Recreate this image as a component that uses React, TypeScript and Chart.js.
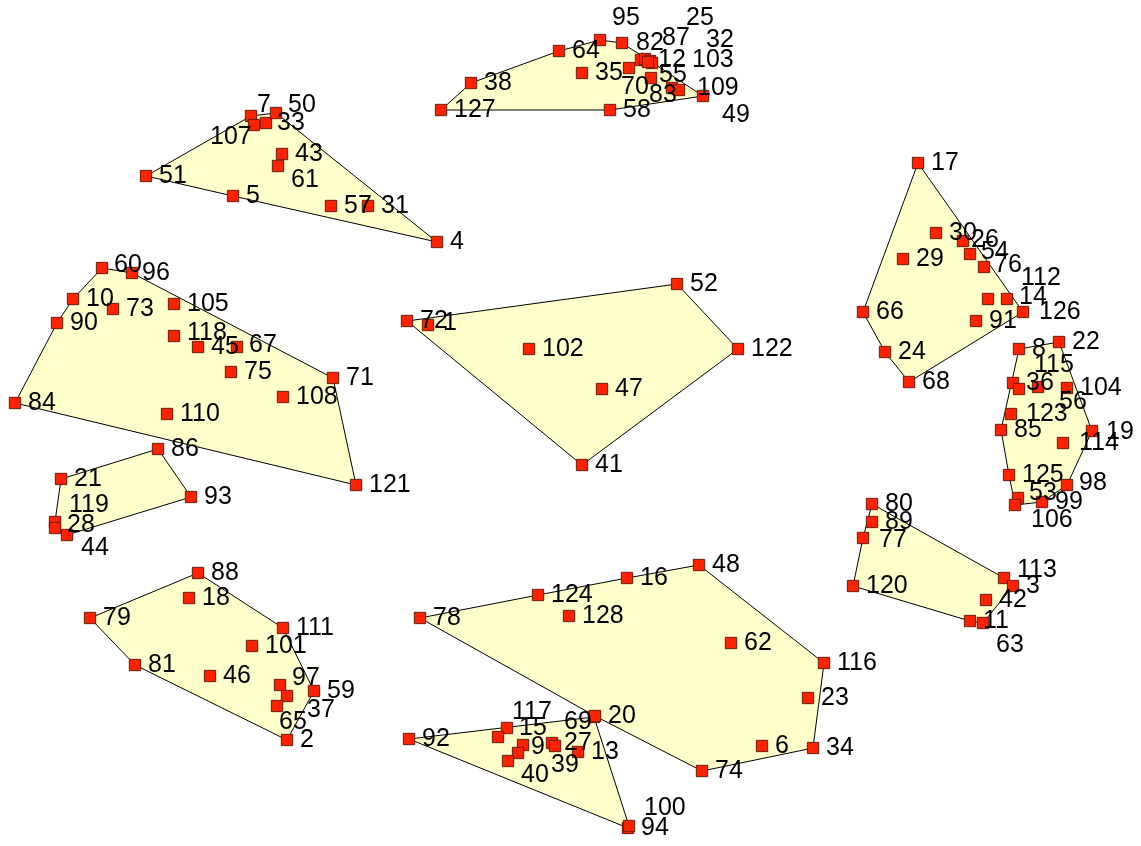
import React, { useEffect, useRef } from 'react';
import { Chart, registerables } from 'chart.js';

Chart.register(...registerables);

// [label id, x, y]  (y grows downward; 0 = unlabeled point)
type P = [number, number, number];

const topCluster: P[] = [
  [127, 441, 110], [38, 471, 83], [64, 559, 51], [95, 600, 40], [82, 622, 43],
  [87, 641, 60], [25, 645, 59], [32, 650, 61], [103, 652, 63], [12, 648, 62],
  [35, 582, 73], [70, 629, 68], [55, 651, 78], [83, 672, 88], [109, 679, 90],
  [49, 703, 96], [58, 610, 110],
];

const topLeftCluster: P[] = [
  [51, 146, 176], [5, 233, 196], [7, 251, 116], [107, 254, 125], [33, 266, 123],
  [50, 276, 113], [43, 282, 154], [61, 278, 166], [57, 331, 206], [31, 368, 206],
  [4, 437, 242],
];

const leftBigCluster: P[] = [
  [60, 102, 268], [96, 132, 273], [10, 73, 299], [73, 113, 309], [90, 57, 323],
  [105, 174, 304], [118, 174, 336], [45, 198, 347], [67, 237, 347], [75, 231, 372],
  [71, 333, 378], [108, 283, 397], [84, 15, 403], [110, 167, 414], [121, 356, 485],
];

const leftSmallCluster: P[] = [
  [86, 158, 449], [21, 61, 479], [93, 191, 497], [119, 55, 522], [28, 55, 528],
  [44, 67, 535],
];

const middleCluster: P[] = [
  [72, 407, 321], [1, 428, 325], [52, 677, 284], [102, 529, 349], [122, 738, 349],
  [47, 602, 389], [41, 582, 465],
];

const rightTopCluster: P[] = [
  [17, 918, 163], [30, 936, 233], [26, 963, 241], [29, 903, 259], [54, 970, 254],
  [76, 984, 267], [112, 988, 299], [14, 1007, 299], [126, 1023, 312], [91, 976, 321],
  [66, 863, 312], [24, 885, 352], [68, 909, 382],
];

const rightCluster: P[] = [
  [8, 1019, 349], [22, 1059, 342], [36, 1013, 383], [115, 1019, 389], [56, 1038, 387],
  [104, 1067, 388], [123, 1011, 414], [85, 1001, 430], [19, 1092, 431], [114, 1063, 443],
  [125, 1009, 475], [98, 1067, 485], [53, 1018, 498], [106, 1015, 505], [99, 1042, 502],
];

const rightBottomCluster: P[] = [
  [80, 872, 504], [89, 872, 522], [77, 863, 538], [120, 853, 586], [113, 1004, 578],
  [3, 1013, 586], [42, 986, 600], [11, 970, 621], [63, 983, 623],
];

const bottomLeftCluster: P[] = [
  [88, 198, 573], [18, 189, 598], [79, 90, 618], [111, 283, 628], [101, 252, 646],
  [81, 135, 665], [46, 210, 676], [97, 280, 685], [59, 314, 691], [37, 287, 696],
  [65, 277, 706], [2, 287, 740],
];

const bottomMidCluster: P[] = [
  [78, 420, 618], [124, 538, 595], [16, 627, 578], [48, 699, 565], [128, 569, 616],
  [62, 731, 643], [116, 824, 663], [23, 808, 698], [34, 813, 748], [6, 762, 746],
  [74, 702, 771], [20, 595, 716],
];

const bottomSmallCluster: P[] = [
  [92, 409, 739], [15, 507, 728], [117, 498, 737], [9, 523, 745], [0, 518, 753],
  [40, 508, 761], [27, 552, 743], [39, 555, 746], [13, 578, 752], [69, 594, 717],
  [94, 628, 828], [100, 629, 826],
];

const CLUSTERS: P[][] = [
  topCluster, topLeftCluster, leftBigCluster, leftSmallCluster, middleCluster,
  rightTopCluster, rightCluster, rightBottomCluster, bottomLeftCluster,
  bottomMidCluster, bottomSmallCluster,
];

// ---- styles ----
const X_RANGE = [0, 1141];
const Y_RANGE = [0, 846];
const DEFAULT_LABEL_OFFSET: [number, number] = [13, 0];
const LABEL_OFFSETS: Record<number, [number, number]> = {
  95: [12, -22], 82: [14, 0], 87: [21, -22], 12: [10, -2], 25: [41, -41], 32: [56, -21],
  103: [40, -3], 70: [-8, 19], 55: [8, -3], 83: [-23, 7], 109: [18, -2], 49: [19, 19],
  7: [6, -11], 107: [-44, 12], 33: [11, 0], 50: [12, -8], 61: [13, 14],
  60: [12, -3], 96: [10, 0], 118: [13, -3], 67: [12, -2],
  119: [14, -17], 28: [12, -3], 44: [14, 13],
  1: [15, -2],
  26: [8, -1], 54: [11, -2], 76: [10, -2], 112: [33, -21], 14: [12, -2], 126: [16, 0],
  115: [15, -24], 56: [21, 15], 123: [15, 0], 19: [14, 1], 114: [16, 0], 98: [12, -2],
  53: [11, -5], 106: [16, 15],
  77: [16, 2], 113: [13, -8], 63: [13, 22],
  97: [12, -7], 37: [20, 14], 65: [2, 16],
  15: [12, 0], 117: [14, -25], 9: [8, 2], 40: [13, 14], 27: [12, 0], 39: [-4, 19],
  69: [-30, 5], 100: [15, -18],
};
const HULL_FILL = '#ffffcc';
const HULL_STROKE = '#000000';
const POINT_FILL = '#ff2200';
const POINT_BORDER = '#6b1a0a';
const LABEL_FONT = '25px "Liberation Sans", Arial, sans-serif';

type XY = { x: number; y: number };

function convexHull(pts: XY[]): XY[] {
  const p = [...pts].sort((a, b) => a.x - b.x || a.y - b.y);
  if (p.length < 3) return p;
  const cross = (o: XY, a: XY, b: XY) => (a.x - o.x) * (b.y - o.y) - (a.y - o.y) * (b.x - o.x);
  const lower: XY[] = [];
  for (const q of p) {
    while (lower.length >= 2 && cross(lower[lower.length - 2], lower[lower.length - 1], q) <= 0) lower.pop();
    lower.push(q);
  }
  const upper: XY[] = [];
  for (let i = p.length - 1; i >= 0; i--) {
    const q = p[i];
    while (upper.length >= 2 && cross(upper[upper.length - 2], upper[upper.length - 1], q) <= 0) upper.pop();
    upper.push(q);
  }
  upper.pop();
  lower.pop();
  return lower.concat(upper);
}

const hullPlugin = {
  id: 'hulls',
  beforeDatasetsDraw(chart: any) {
    const { ctx, scales } = chart;
    const xs = scales.x;
    const ys = scales.y;
    ctx.save();
    for (const cluster of CLUSTERS) {
      const h = convexHull(cluster.map(([, x, y]) => ({ x, y })));
      if (!h.length) continue;
      ctx.beginPath();
      h.forEach((q, i) => {
        const px = xs.getPixelForValue(q.x);
        const py = ys.getPixelForValue(q.y);
        if (i === 0) ctx.moveTo(px, py);
        else ctx.lineTo(px, py);
      });
      ctx.closePath();
      ctx.fillStyle = HULL_FILL;
      ctx.fill();
      ctx.lineWidth = 1;
      ctx.strokeStyle = HULL_STROKE;
      ctx.stroke();
    }
    ctx.restore();
  },
};

const labelPlugin = {
  id: 'pointLabels',
  afterDatasetsDraw(chart: any) {
    const { ctx, scales } = chart;
    const xs = scales.x;
    const ys = scales.y;
    ctx.save();
    ctx.font = LABEL_FONT;
    ctx.fillStyle = '#000';
    ctx.textAlign = 'left';
    ctx.textBaseline = 'middle';
    for (const cluster of CLUSTERS) {
      for (const [id, x, y] of cluster) {
        if (!id) continue;
        const [dx, dy] = LABEL_OFFSETS[id] || DEFAULT_LABEL_OFFSET;
        ctx.fillText(String(id), xs.getPixelForValue(x) + dx, ys.getPixelForValue(y) + dy);
      }
    }
    ctx.restore();
  },
};

export default function App() {
  const ref = useRef<HTMLCanvasElement | null>(null);
  useEffect(() => {
    if (!ref.current) return;
    const chart = new Chart(ref.current, {
      type: 'scatter',
      data: {
        datasets: CLUSTERS.map((c) => ({
          data: c.map(([, x, y]) => ({ x, y })),
          pointStyle: 'rect',
          pointRadius: 8,
          pointHoverRadius: 8,
          backgroundColor: POINT_FILL,
          borderColor: POINT_BORDER,
          borderWidth: 1,
          showLine: false,
          clip: false,
        })),
      },
      options: {
        animation: false,
        responsive: true,
        maintainAspectRatio: false,
        events: [],
        layout: { padding: 0, autoPadding: false },
        plugins: { legend: { display: false }, tooltip: { enabled: false } },
        scales: {
          x: { type: 'linear', min: X_RANGE[0], max: X_RANGE[1], display: false },
          y: { type: 'linear', min: Y_RANGE[0], max: Y_RANGE[1], reverse: true, display: false },
        },
      },
      plugins: [hullPlugin, labelPlugin],
    } as any);
    return () => chart.destroy();
  }, []);
  return (
    <div style={{ position: 'absolute', left: 0, top: 0, width: 1141, height: 846, background: '#fff' }}>
      <canvas ref={ref} />
    </div>
  );
}
